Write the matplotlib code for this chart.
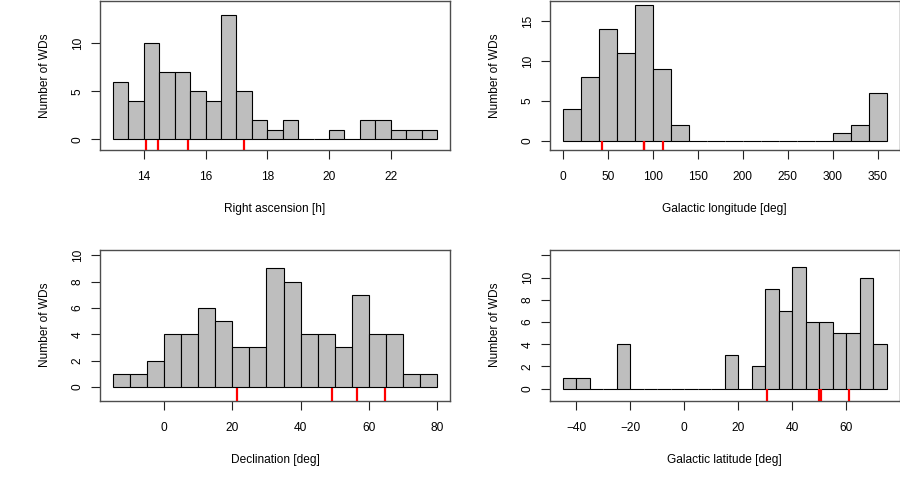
import matplotlib
matplotlib.use("Agg")
import matplotlib.pyplot as plt
import numpy as np

plt.rcParams['font.family'] = ['Liberation Sans', 'DejaVu Sans']
plt.rcParams['font.size'] = 8.6

# histogram counts
ra_start, ra_width = 13.0, 0.5
ra_counts = [6, 4, 10, 7, 7, 5, 4, 13, 5, 2, 1, 2, 0, 0, 1, 0, 2, 2, 1, 1, 1]
ra_marks = [14.08, 14.47, 15.44, 17.25]

gl_start, gl_width = 0.0, 20.0
gl_counts = [4, 8, 14, 11, 17, 9, 2, 0, 0, 0, 0, 0, 0, 0, 0, 1, 2, 6]
gl_marks = [43.3, 89.8, 90.6, 111.1]

dec_start, dec_width = -15.0, 5.0
dec_counts = [1, 1, 2, 4, 4, 6, 5, 3, 3, 9, 8, 4, 4, 3, 7, 4, 4, 1, 1]
dec_marks = [21.4, 49.3, 56.4, 64.6]

gb_start, gb_width = -45.0, 5.0
gb_counts = [1, 1, 0, 0, 4, 0, 0, 0, 0, 0, 0, 0, 3, 0, 2, 9, 7, 11, 6, 6, 5, 5, 10, 4]
gb_marks = [30.6, 49.9, 50.8, 61.2]

W, H = 900, 500
fig = plt.figure(figsize=(9, 5), dpi=100)


def panel(x0, y0, x1, y1, start, width, counts, marks, xlabel, xticks,
          ylim, yticks, ylabels):
    ax = fig.add_axes([x0 / W, 1 - y1 / H, (x1 - x0) / W, (y1 - y0) / H])
    n = len(counts)
    lefts = start + width * np.arange(n)
    ax.bar(lefts, counts, width=width, align='edge', color='#bebebe',
           edgecolor='black', linewidth=0.8, zorder=2)
    ax.vlines(marks, ylim[0], -0.05, color='red', linewidth=1.6, zorder=3)
    lo, hi = start, start + width * n
    pad = 0.04 * (hi - lo)
    ax.set_xlim(lo - pad, hi + pad)
    ax.set_ylim(*ylim)
    ax.set_xticks(xticks)
    ax.set_yticks(yticks)
    ax.set_yticklabels(ylabels, rotation=90, va='center')
    for s in ax.spines.values():
        s.set_color('#4d4d4d')
        s.set_linewidth(1.0)
    ax.tick_params(length=6.3, width=0.8, color='#222222', pad=5.5,
                   labelsize=8.6)
    ax.tick_params(axis='x', pad=9)
    ax.set_xlabel(xlabel)
    ax.set_ylabel('Number of WDs')
    h = y1 - y0
    ax.xaxis.set_label_coords(0.5, -(59) / h)
    ax.xaxis.label.set_va('center')
    ax.yaxis.set_label_coords(-55 / (x1 - x0), 0.5)
    ax.yaxis.label.set_va('center')
    return ax


panel(100, 0.5, 450, 150, ra_start, ra_width, ra_counts, ra_marks,
      'Right ascension [h]', [14, 16, 18, 20, 22],
      (-1.115, 14.46), [0, 5, 10], ['0', '5', '10'])
panel(550, 0.5, 899.5, 150, gl_start, gl_width, gl_counts, gl_marks,
      'Galactic longitude [deg]', [0, 50, 100, 150, 200, 250, 300, 350],
      (-1.165, 17.57), [0, 5, 10, 15], ['0', '5', '10', '15'])
panel(100, 249.5, 450, 400.5, dec_start, dec_width, dec_counts, dec_marks,
      'Declination [deg]', [0, 20, 40, 60, 80],
      (-1.025, 10.44), [0, 2, 4, 6, 8, 10], ['0', '2', '4', '6', '8', '10'])
panel(550, 249.5, 899.5, 400.5, gb_start, gb_width, gb_counts, gb_marks,
      'Galactic latitude [deg]', [-40, -20, 0, 20, 40, 60],
      (-1.063, 12.54), [0, 2, 4, 6, 8, 10, 12],
      ['0', '2', '4', '6', '8', '10', ''])

fig.savefig('out.png', dpi=100)
